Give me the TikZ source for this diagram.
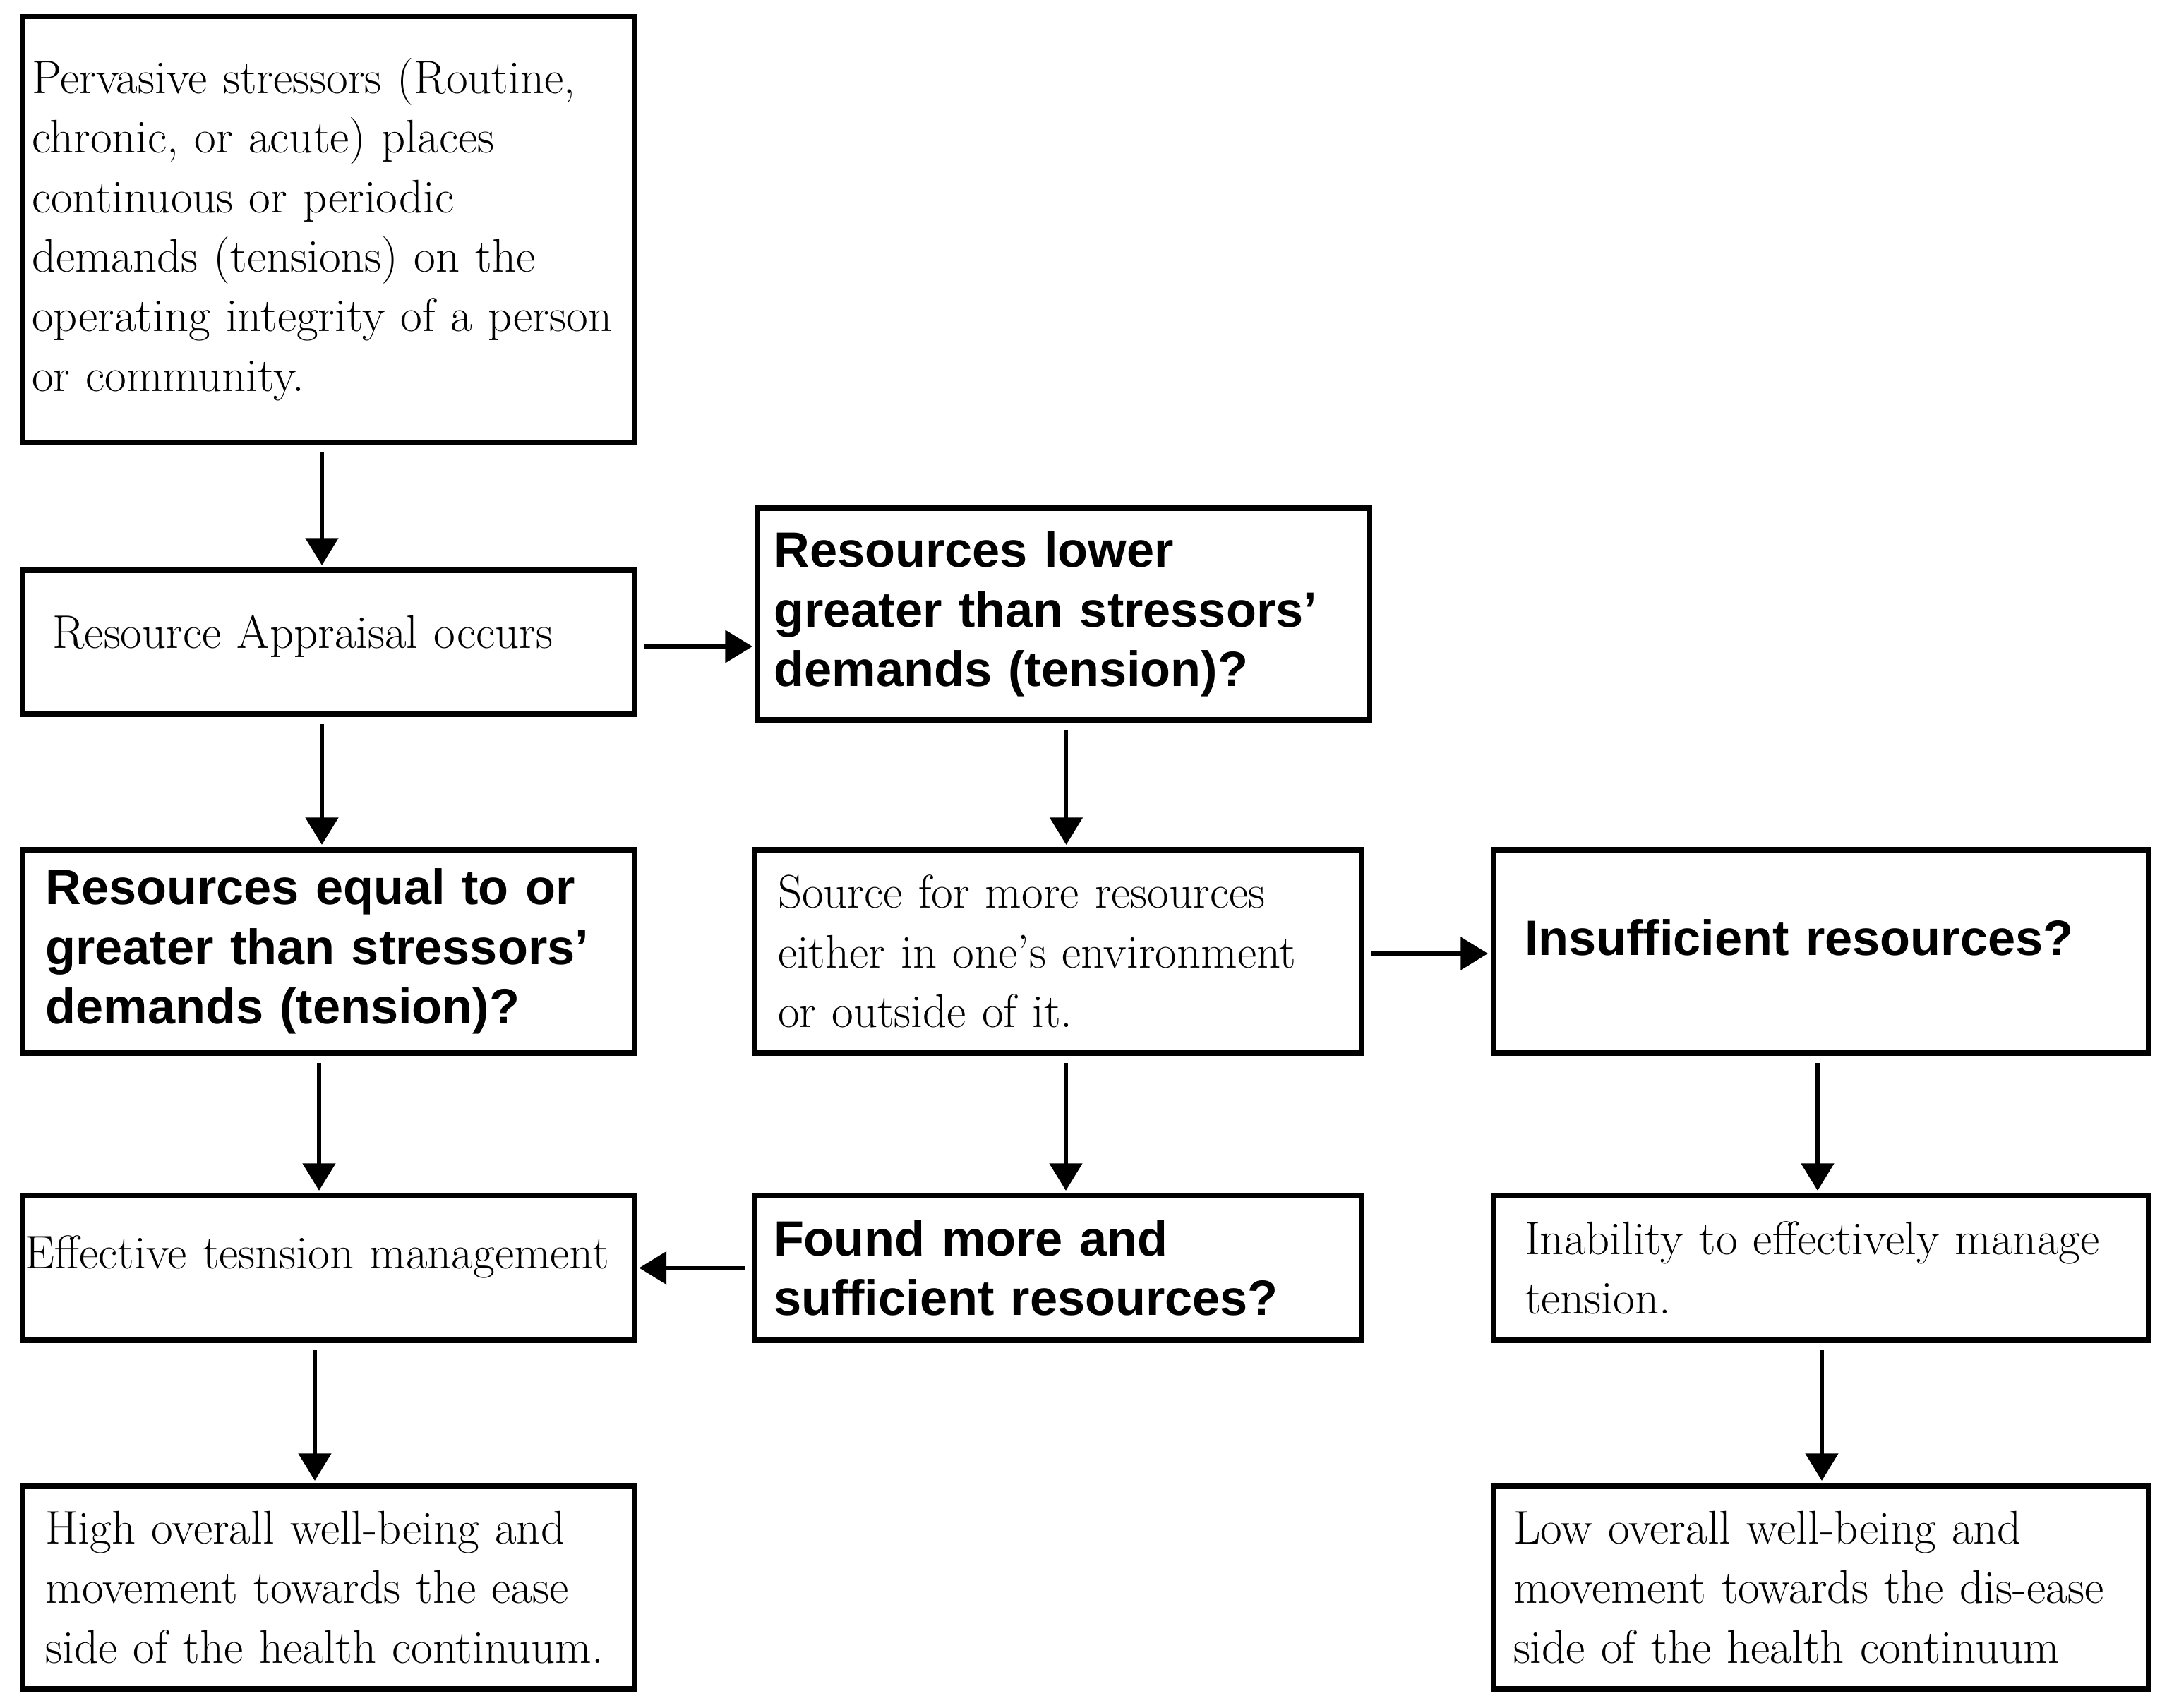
\documentclass[tikz,border=0pt]{standalone}
\usepackage{fontspec}
\newfontfamily\headfont{Liberation Sans}
\usetikzlibrary{arrows.meta, positioning}
\tikzset{>={Triangle[length=11pt, width=13pt]}}

\begin{document}
\begin{tikzpicture}[
  box/.style={draw, line width=2pt, rectangle, align=left, inner ysep=0pt},
  plain/.style={box, font=\fontsize{19}{24}\selectfont},
  query/.style={box, font=\headfont\bfseries\fontsize{20}{24}\selectfont},
  link/.style={->, line width=1.7pt, shorten <=3pt, shorten >=1pt}]
\useasboundingbox (0,0) rectangle (30.70,-24.20);

% left column
\node[plain, text width=8.4cm, inner xsep=.135cm, minimum height=6.03cm] (stress) at (4.65,-3.25)
  {Pervasive stressors (Routine,\\ chronic, or acute) places\\ continuous or periodic\\ demands (tensions) on the\\ operating integrity of a person\\ or community.};
\node[plain, text width=7.81cm, inner xsep=.43cm, minimum height=2.04cm, text depth=.3cm] (appraisal) at (4.65,-9.10)
  {Resource Appraisal occurs};
\node[query, text width=8.01cm, inner xsep=.33cm, minimum height=2.88cm] (equal) at (4.65,-13.48)
  {Resources equal to or\\ greater than stressors’\\ demands (tension)?};
\node[plain, text width=8.59cm, inner xsep=.04cm, minimum height=2.05cm, text depth=.45cm] (effective) at (4.65,-17.965)
  {Effective tesnsion management};
\node[plain, text width=8.01cm, inner xsep=.33cm, minimum height=2.88cm] (high) at (4.65,-22.49)
  {High overall well-being and\\ movement towards the ease\\ side of the health continuum.};

% middle column
\node[query, text width=8.2cm, inner xsep=.235cm, minimum height=3.0cm] (lower) at (15.065,-8.70)
  {Resources lower\\ greater than stressors’\\ demands (tension)?};
\node[plain, text width=7.94cm, inner xsep=.33cm, minimum height=2.88cm] (source) at (14.99,-13.48)
  {Source for more resources\\ either in one’s environment\\ or outside of it.};
\node[query, text width=8.06cm, inner xsep=.27cm, minimum height=2.05cm] (found) at (14.99,-17.965)
  {Found more and\\ sufficient resources?};

% right column
\node[query, text width=8.38cm, inner xsep=.45cm, minimum height=2.88cm, text depth=.4cm] (insufficient) at (25.79,-13.48)
  {Insufficient resources?};
\node[plain, text width=8.38cm, inner xsep=.45cm, minimum height=2.05cm] (inability) at (25.79,-17.965)
  {Inability to effectively manage\\ tension.};
\node[plain, text width=8.7cm, inner xsep=.29cm, minimum height=2.88cm] (low) at (25.79,-22.49)
  {Low overall well-being and\\ movement towards the dis-ease\\ side of the health continuum};

% arrows
\draw[link] ([xshift=-.09cm]stress.south) -- ([xshift=-.09cm]stress.south |- appraisal.north);
\draw[link] ([xshift=-.09cm]appraisal.south) -- ([xshift=-.09cm]appraisal.south |- equal.north);
\draw[link] ([yshift=-.06cm]appraisal.east) -- ([yshift=-.06cm]appraisal.east -| lower.west);
\draw[link] ([xshift=.04cm]lower.south) -- ([xshift=.04cm]lower.south |- source.north);
\draw[link] ([xshift=-.13cm]equal.south) -- ([xshift=-.13cm]equal.south |- effective.north);
\draw[link] ([xshift=.11cm]source.south) -- ([xshift=.11cm]source.south |- found.north);
\draw[link] ([yshift=-.03cm]source.east) -- ([yshift=-.03cm]source.east -| insufficient.west);
\draw[link] ([xshift=-.04cm]insufficient.south) -- ([xshift=-.04cm]insufficient.south |- inability.north);
\draw[link] (found.west) -- (found.west -| effective.east);
\draw[link] ([xshift=-.19cm]effective.south) -- ([xshift=-.19cm]effective.south |- high.north);
\draw[link] ([xshift=.02cm]inability.south) -- ([xshift=.02cm]inability.south |- low.north);

\end{tikzpicture}
\end{document}
